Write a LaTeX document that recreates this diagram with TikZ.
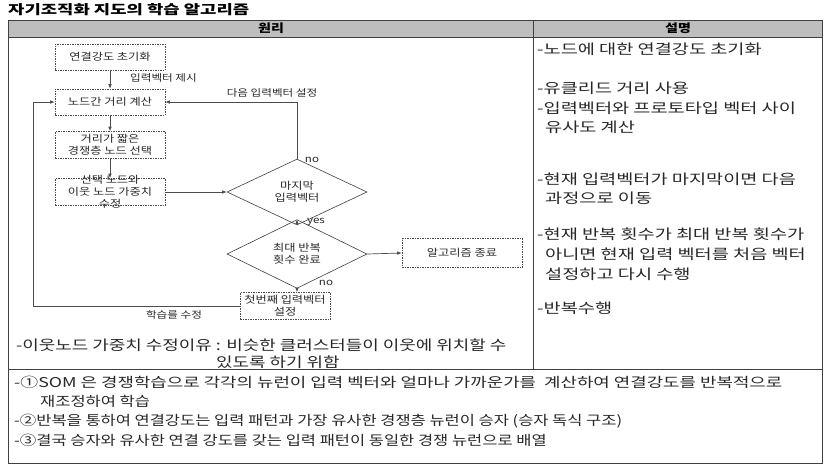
\documentclass[tikz,border=0pt]{standalone}
\usepackage{fontspec}
\setmainfont{Noto Sans CJK KR}[FakeStretch=1.22]
\usetikzlibrary{arrows.meta,shapes.geometric}
\definecolor{hdr}{RGB}{190,190,190}
\definecolor{ink}{RGB}{40,40,40}
\newcommand{\myR}[1]{\scalebox{1.09}[1]{#1}}
\newcommand{\myN}[1]{\scalebox{1.05}[1]{#1}}
\newcommand{\myT}[1]{\scalebox{1.12}[1]{#1}}
\newcommand{\myS}[1]{\scalebox{1.085}[1]{#1}}
\begin{document}
\begin{tikzpicture}[x=1pt,y=-1pt,
  tbl/.style={draw=black!75, line width=0.8pt},
  fbox/.style={draw=black!70, dash pattern=on 1.5pt off 1pt, line width=0.55pt, minimum width=110pt, minimum height=26pt, inner sep=0pt, font=\fontsize{10}{12}\selectfont, text=ink, align=center},
  ftext/.style={inner sep=0pt, font=\fontsize{10}{12}\selectfont, text=ink, align=center},
  dia/.style={diamond, draw=black!75, line width=0.6pt, minimum width=140pt, minimum height=44pt, inner sep=0pt, font=\fontsize{10}{12}\selectfont, text=ink, align=center},
  conn/.style={draw=black!70, line width=0.7pt},
  arr/.style={conn, -{Latex[length=4.5pt,width=3.6pt]}},
  lbl/.style={inner sep=0pt, font=\fontsize{9.5}{11}\selectfont, text=ink},
  desc/.style={anchor=west, inner sep=0pt, font=\fontsize{14}{16}\selectfont, text=ink},
  bot/.style={anchor=west, inner sep=0pt, font=\fontsize{13.5}{16}\selectfont, text=ink},
  hd/.style={inner sep=0pt, font=\bfseries\fontsize{11.5}{14}\selectfont, text=black}]
\useasboundingbox (0,0) rectangle (826,466);
\fill[white] (0,0) rectangle (826,466);
% title
\node[anchor=west, inner sep=0pt, font=\bfseries\fontsize{13}{15}\selectfont] (title) at (8,10) {\myT{자기조직화 지도의 학습 알고리즘}};
% table
\fill[hdr] (8,20) rectangle (822,37);
\draw[tbl] (8,20) rectangle (822,463);
\draw[tbl] (8,37) -- (822,37);
\draw[tbl] (533,20) -- (533,369);
\draw[tbl] (8,369) -- (822,369);
\node[hd] (h1) at (271,28.5) {원리};
\node[hd] (h2) at (678,28.5) {설명};
% flowchart
\node[fbox] (b1) at (110,57) {연결강도 초기화};
\node[fbox] (b2) at (110,102) {노드간 거리 계산};
\node[fbox, minimum height=27pt] (b3) at (110,145) {거리가 짧은\\경쟁층 노드 선택};
\node[fbox, minimum height=27pt] (b4) at (110,192) {};
\node[ftext] (b4t) at (b4.center) {선택 노드와\\이웃 노드 가중치\\수정};
\node[dia] (d1) at (297,192) {마지막\\입력벡터};
\node[dia, minimum height=43pt] (d2) at (297,254) {최대 반복\\횟수 완료};
\node[fbox, minimum width=120pt, minimum height=29pt] (b6) at (462,253) {알고리즘 종료};
\node[fbox, minimum width=90pt, minimum height=27pt] (b5) at (285,306) {첫번째 입력벡터\\설정};
\coordinate (lp) at (33,306);
\draw[arr] (b1.south) -- (b2.north);
\draw[arr] (b2.south) -- (b3.north);
\draw[arr] (b3.south) -- (b4.north);
\draw[arr] (b4.east) -- (d1.west);
\draw[arr] (d1.north) |- (b2.east);
\draw[arr] (d1.south) -- (d2.north);
\draw[arr] (d2.east) -- (b6.west);
\draw[arr] (d2.south) -- (d2.south |- b5.north);
\draw[arr] (b5.west) -- (lp) |- (b2.west);
\node[lbl, anchor=west] (l1) at (130,78) {입력벡터 제시};
\node[lbl] (l2) at (272,93) {다음 입력벡터 설정};
\node[lbl] (l3) at (312,160) {no};
\node[lbl] (l4) at (316,222) {yes};
\node[lbl] (l5) at (326,283) {no};
\node[lbl] (l6) at (174,315) {학습를 수정};
% left column note
\node[desc] (n1) at (16,345) {\myN{-이웃노드 가중치 수정이유 : 비슷한 클러스터들이 이웃에 위치할 수}};
\node[desc] (n2) at (216,362) {\myN{있도록 하기 위함}};
% right column
\node[desc] (r1) at (537,49) {\myR{-노드에 대한 연결강도 초기화}};
\node[desc] (r2) at (537,88) {\myR{-유클리드 거리 사용}};
\node[desc] (r3) at (537,108) {\myR{-입력벡터와 프로토타입 벡터 사이}};
\node[desc] (r4) at (545,127) {\myR{유사도 계산}};
\node[desc] (r5) at (537,179) {\myR{-현재 입력벡터가 마지막이면 다음}};
\node[desc] (r6) at (545,198) {\myR{과정으로 이동}};
\node[desc] (r7) at (537,234) {\myR{-현재 반복 횟수가 최대 반복 횟수가}};
\node[desc] (r8) at (545,254) {\myR{아니면 현재 입력 벡터를 처음 벡터}};
\node[desc] (r9) at (545,274) {\myR{설정하고 다시 수행}};
\node[desc] (r10) at (537,308) {\myR{-반복수행}};
% bottom
\node[bot] (s1) at (14,382) {\myS{-①SOM 은 경쟁학습으로 각각의 뉴런이 입력 벡터와 얼마나 가까운가를~ 계산하여 연결강도를 반복적으로}};
\node[bot] (s2) at (40,401) {재조정하여 학습};
\node[bot] (s3) at (14,421) {-②반복을 통하여 연결강도는 입력 패턴과 가장 유사한 경쟁층 뉴런이 승자 (승자 독식 구조)};
\node[bot] (s4) at (14,440) {-③결국 승자와 유사한 연결 강도를 갖는 입력 패턴이 동일한 경쟁 뉴런으로 배열};
\end{tikzpicture}
\end{document}
